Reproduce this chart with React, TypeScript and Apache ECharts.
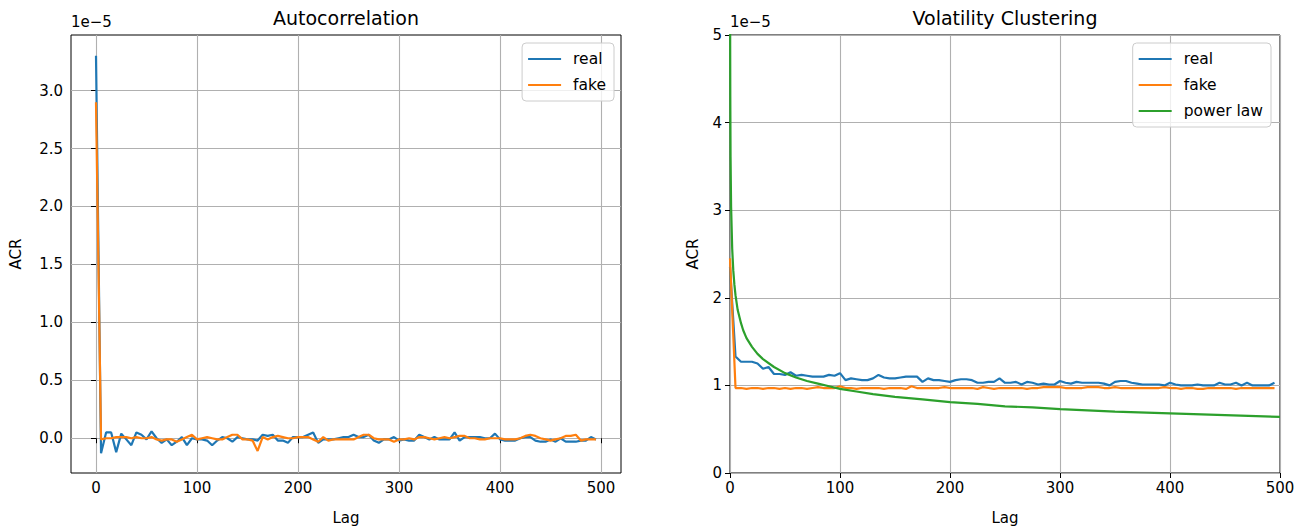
import React, { useEffect, useRef } from "react";
import * as echarts from "echarts";

// lag spacing between consecutive points (lags 0, 5, 10, ..., 495)
const LAG_STEP = 5;

// Autocorrelation (x 1e-5)
const ACF_REAL = [
  3.3, -0.13, 0.05, 0.05, -0.12, 0.04, -0.01, -0.06, 0.05, 0.03,
  -0.01, 0.06, 0.0, -0.04, -0.01, -0.06, -0.03, 0.01, -0.06, 0.0,
  -0.01, -0.01, -0.02, -0.06, -0.02, 0.01, 0.0, -0.03, 0.01, 0.0,
  -0.01, -0.01, -0.02, 0.03, 0.02, 0.03, -0.02, -0.02, -0.04, 0.01,
  0.01, 0.01, 0.03, 0.05, -0.04, -0.01, -0.01, -0.01, 0.0, 0.01,
  0.01, 0.03, 0.01, 0.01, 0.03, -0.02, -0.04, -0.01, -0.01, 0.01,
  -0.02, -0.01, -0.02, -0.02, 0.03, 0.01, -0.01, 0.01, -0.01, -0.01,
  -0.01, 0.05, -0.02, 0.01, 0.01, 0.01, 0.01, 0.0, 0.0, 0.04,
  -0.01, -0.02, -0.02, -0.02, 0.0, 0.01, 0.01, -0.02, -0.03, -0.03,
  -0.01, -0.03, 0.0, -0.03, -0.03, -0.03, -0.02, -0.02, 0.01, -0.01,
];
const ACF_FAKE = [
  2.9, -0.01, 0.0, 0.0, 0.01, 0.01, 0.01, 0.0, 0.01, 0.0,
  0.0, 0.01, -0.01, -0.02, -0.01, -0.01, -0.03, -0.01, 0.01, 0.03,
  -0.01, 0.0, 0.01, 0.0, -0.01, -0.01, 0.01, 0.03, 0.03, -0.01,
  -0.01, -0.02, -0.11, 0.01, -0.01, 0.01, 0.02, 0.01, 0.0, 0.0,
  0.01, 0.01, 0.01, -0.01, -0.03, 0.01, -0.02, -0.01, -0.01, -0.01,
  -0.01, -0.01, 0.01, 0.03, 0.03, 0.0, -0.01, -0.01, -0.01, -0.03,
  -0.01, -0.01, 0.0, -0.01, 0.01, 0.01, 0.0, -0.01, 0.0, 0.01,
  0.0, 0.01, 0.02, 0.02, 0.0, 0.0, -0.01, -0.01, 0.0, 0.0,
  0.0, -0.01, -0.01, -0.01, 0.0, 0.02, 0.03, 0.02, 0.0, -0.01,
  -0.02, -0.01, 0.0, 0.02, 0.02, 0.03, -0.02, -0.01, -0.01, -0.01,
];

// Volatility clustering (x 1e-5)
const VOL_REAL = [
  2.35, 1.33, 1.27, 1.27, 1.27, 1.25, 1.19, 1.21, 1.13, 1.13,
  1.12, 1.15, 1.11, 1.12, 1.11, 1.1, 1.1, 1.1, 1.12, 1.11,
  1.14, 1.06, 1.08, 1.07, 1.06, 1.06, 1.08, 1.12, 1.09, 1.08,
  1.08, 1.09, 1.1, 1.1, 1.1, 1.04, 1.08, 1.06, 1.06, 1.05,
  1.04, 1.06, 1.07, 1.07, 1.06, 1.03, 1.03, 1.04, 1.04, 1.08,
  1.03, 1.03, 1.04, 1.01, 1.04, 1.03, 1.01, 1.02, 1.01, 1.01,
  1.05, 1.03, 1.02, 1.04, 1.03, 1.03, 1.03, 1.03, 1.02, 1.0,
  1.04, 1.05, 1.05, 1.03, 1.02, 1.01, 1.01, 1.01, 1.01, 1.0,
  1.03, 1.01, 1.0, 1.0, 1.0, 1.01, 1.0, 1.0, 1.0, 1.03,
  1.01, 1.01, 1.03, 1.0, 1.03, 1.0, 1.0, 1.0, 1.0, 1.03,
];
const VOL_FAKE = [
  2.45, 0.97, 0.97, 0.96, 0.97, 0.97, 0.96, 0.97, 0.97, 0.96,
  0.97, 0.96, 0.97, 0.97, 0.96, 0.97, 0.98, 0.97, 0.97, 0.97,
  0.99, 0.97, 0.97, 0.96, 0.97, 0.97, 0.97, 0.97, 0.96, 0.97,
  0.97, 0.97, 0.96, 0.99, 0.97, 0.97, 0.97, 0.97, 0.97, 0.98,
  0.97, 0.97, 0.97, 0.97, 0.97, 0.96, 0.98, 0.97, 0.96, 0.97,
  0.97, 0.97, 0.97, 0.97, 0.96, 0.97, 0.97, 0.98, 0.98, 0.98,
  0.98, 0.97, 0.97, 0.97, 0.97, 0.98, 0.98, 0.98, 0.97, 0.97,
  0.98, 0.97, 0.97, 0.97, 0.97, 0.97, 0.97, 0.97, 0.97, 0.98,
  0.97, 0.97, 0.96, 0.97, 0.97, 0.96, 0.96, 0.97, 0.97, 0.97,
  0.97, 0.97, 0.96, 0.97, 0.97, 0.97, 0.97, 0.97, 0.97, 0.97,
];

// Power law reference curve (x 1e-5)
const POWER_LAGS = [
  0.1, 0.15, 0.25, 0.5, 1, 2, 3, 4, 5, 7, 10, 12, 15, 20, 25, 30, 40, 50, 60,
  70, 80, 90, 100, 115, 130, 150, 175, 200, 225, 250, 275, 300, 350, 400, 450, 500,
];
const POWER_VALUES = [
  5.4, 4.88, 4.3, 3.61, 3.04, 2.56, 2.31, 2.15, 2.03, 1.86, 1.71, 1.63, 1.54,
  1.44, 1.36, 1.3, 1.21, 1.14, 1.09, 1.05, 1.02, 0.99, 0.96, 0.93, 0.9, 0.87,
  0.84, 0.81, 0.79, 0.76, 0.75, 0.73, 0.7, 0.68, 0.66, 0.64,
];

const LAG_TICKS = [0, 100, 200, 300, 400, 500];
const ACF_TICKS = [0, 0.5, 1, 1.5, 2, 2.5, 3];

const BLUE = "#1f77b4";
const ORANGE = "#ff7f0e";
const GREEN = "#2ca02c";
const FONT = "DejaVu Sans";

const toPairs = (vals: number[]) => vals.map((v, i) => [i * LAG_STEP, v]);

export default function App() {
  const ref = useRef<HTMLDivElement>(null);

  useEffect(() => {
    if (!ref.current) return;
    const chart = echarts.init(ref.current, null, { renderer: "svg" });

    const tickText = { fontFamily: FONT, fontSize: 15, color: "#000" };
    const nameText = { fontFamily: FONT, fontSize: 15, color: "#000" };
    const splitLine = { show: true, lineStyle: { color: "#b0b0b0", width: 1.1 } };
    const axisTick = (custom?: number[]) => ({
      show: true,
      inside: false,
      length: 5,
      lineStyle: { color: "#000", width: 1 },
      ...(custom ? { customValues: custom } : {}),
    });

    const gridBase = {
      top: 35,
      width: 550,
      height: 438,
      show: true,
      borderColor: "#000",
      borderWidth: 1,
      backgroundColor: "transparent",
      containLabel: false,
    };

    const lineSeries = (name: string, color: string, data: number[][], idx: number) => ({
      name,
      type: "line",
      xAxisIndex: idx,
      yAxisIndex: idx,
      data,
      symbol: "none",
      showSymbol: false,
      lineStyle: { color, width: 2.2 },
      itemStyle: { color },
    });

    const legendBase = {
      orient: "vertical",
      top: 43,
      icon: "rect",
      itemWidth: 33,
      itemHeight: 2.2,
      itemGap: 10,
      padding: [8, 8, 8, 6],
      backgroundColor: "rgba(255,255,255,0.8)",
      borderColor: "#cccccc",
      borderWidth: 1,
      borderRadius: 4,
      textStyle: { fontFamily: FONT, fontSize: 15.5, color: "#000", lineHeight: 16, padding: [0, 0, 0, 7] },
      selectedMode: false,
    };

    chart.setOption({
      animation: false,
      backgroundColor: "#fff",
      grid: [
        { ...gridBase, left: 71 },
        { ...gridBase, left: 730 },
      ],
      xAxis: [
        {
          gridIndex: 0,
          type: "value",
          min: -24.75,
          max: 519.75,
          axisLine: { show: false },
          axisTick: axisTick(LAG_TICKS),
          axisLabel: { ...tickText, margin: 7, customValues: LAG_TICKS },
          splitLine,
          name: "Lag",
          nameLocation: "middle",
          nameGap: 37,
          nameTextStyle: nameText,
        },
        {
          gridIndex: 1,
          type: "value",
          min: 0,
          max: 500,
          interval: 100,
          axisLine: { show: false },
          axisTick: axisTick(),
          axisLabel: { ...tickText, margin: 7 },
          splitLine,
          name: "Lag",
          nameLocation: "middle",
          nameGap: 37,
          nameTextStyle: nameText,
        },
      ],
      yAxis: [
        {
          gridIndex: 0,
          type: "value",
          min: -0.3,
          max: 3.48,
          axisLine: { show: false },
          axisTick: axisTick(ACF_TICKS),
          axisLabel: {
            ...tickText,
            margin: 8,
            customValues: ACF_TICKS,
            formatter: (v: number) => v.toFixed(1),
          },
          splitLine,
          name: "ACR",
          nameLocation: "middle",
          nameGap: 48,
          nameTextStyle: nameText,
        },
        {
          gridIndex: 1,
          type: "value",
          min: 0,
          max: 5,
          interval: 1,
          axisLine: { show: false },
          axisTick: axisTick(),
          axisLabel: { ...tickText, margin: 8 },
          splitLine,
          name: "ACR",
          nameLocation: "middle",
          nameGap: 30,
          nameTextStyle: nameText,
        },
      ],
      legend: [
        { ...legendBase, right: 1305 - 614, data: ["real", "fake"] },
        { ...legendBase, right: 1305 - 1271, data: ["real", "fake", "power law"] },
      ],
      series: [
        lineSeries("real", BLUE, toPairs(ACF_REAL), 0),
        lineSeries("fake", ORANGE, toPairs(ACF_FAKE), 0),
        lineSeries("real", BLUE, toPairs(VOL_REAL), 1),
        lineSeries("fake", ORANGE, toPairs(VOL_FAKE), 1),
        lineSeries("power law", GREEN, POWER_LAGS.map((x, i) => [x, POWER_VALUES[i]]), 1),
      ],
      graphic: [
        {
          type: "text",
          x: 346,
          y: 18,
          style: { text: "Autocorrelation", font: `19px '${FONT}'`, fill: "#000", textAlign: "center", textVerticalAlign: "middle" },
        },
        {
          type: "text",
          x: 1005,
          y: 18,
          style: { text: "Volatility Clustering", font: `19px '${FONT}'`, fill: "#000", textAlign: "center", textVerticalAlign: "middle" },
        },
        {
          type: "text",
          x: 71,
          y: 22,
          style: { text: "1e\u22125", font: `15px '${FONT}'`, fill: "#000", textAlign: "left", textVerticalAlign: "middle" },
        },
        {
          type: "text",
          x: 730,
          y: 22,
          style: { text: "1e\u22125", font: `15px '${FONT}'`, fill: "#000", textAlign: "left", textVerticalAlign: "middle" },
        },
      ],
    });

    return () => chart.dispose();
  }, []);

  return (
    <div
      ref={ref}
      style={{ position: "fixed", left: 0, top: 0, width: 1305, height: 530, background: "#fff" }}
    />
  );
}
